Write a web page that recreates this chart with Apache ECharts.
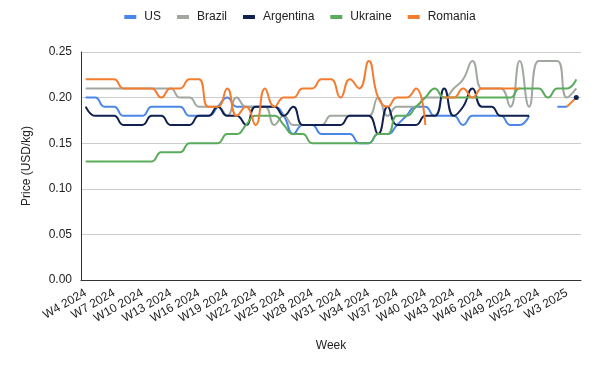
<!DOCTYPE html>
<html><head><meta charset="utf-8">
<script src="https://cdn.jsdelivr.net/npm/echarts@6/dist/echarts.min.js"></script>
<style>html,body{margin:0;padding:0;background:#fff}#c{width:600px;height:371px}</style>
</head><body><div id="c"></div>
<script>
// Categories: W4 2024 ... W4 2025
const weeks = [];
for (let w = 4; w <= 52; w++) weeks.push('W' + w + ' 2024');
for (let w = 1; w <= 4; w++) weeks.push('W' + w + ' 2025');

const seriesNames = ['US', 'Brazil', 'Argentina', 'Ukraine', 'Romania'];
const yTicks = [0, 0.05, 0.10, 0.15, 0.20, 0.25];

const us = [0.20,0.20,0.19,0.19,0.18,0.18,0.18,0.19,0.19,0.19,0.19,0.18,0.18,0.18,0.19,0.20,0.19,0.19,0.19,0.19,
  0.19,0.18,0.16,0.17,0.17,0.16,0.16,0.16,0.16,0.15,0.15,0.16,0.16,0.17,0.18,0.19,0.19,0.18,0.18,0.18,
  0.17,0.18,0.18,0.18,0.18,0.17,0.17,0.18,null,null,0.19,0.19,null];
const brazil = [0.21,0.21,0.21,0.21,0.21,0.21,0.21,0.21,0.21,0.21,0.20,0.20,0.19,0.19,0.19,0.18,0.20,0.19,0.19,0.19,
  0.17,0.18,0.17,0.17,0.17,0.17,0.18,0.18,0.18,0.18,0.18,0.20,0.18,0.19,0.19,0.19,0.20,0.20,0.20,0.21,
  0.22,0.24,0.21,0.21,0.21,0.19,0.24,0.19,0.24,0.24,0.24,0.20,0.21];
const argentina = [0.19,0.18,0.18,0.18,0.17,0.17,0.17,0.18,0.18,0.17,0.17,0.17,0.18,0.18,0.19,0.18,0.18,0.17,0.19,0.19,
  0.19,0.18,0.19,0.17,0.17,0.17,0.17,0.17,0.18,0.18,0.18,0.16,0.19,0.17,0.17,0.17,0.18,0.18,0.21,0.18,
  0.19,0.21,0.19,0.19,0.18,0.18,0.18,0.18,null,null,null,null,0.20];
const ukraine = [0.13,0.13,0.13,0.13,0.13,0.13,0.13,0.13,0.14,0.14,0.14,0.15,0.15,0.15,0.15,0.16,0.16,0.17,0.18,0.18,
  0.18,0.17,0.16,0.16,0.15,0.15,0.15,0.15,0.15,0.15,0.15,0.16,0.16,0.18,0.18,0.19,0.20,0.21,0.20,0.20,
  0.20,0.20,0.20,0.20,0.20,0.20,0.21,0.21,0.21,0.20,0.21,0.21,0.22];
const romania = [0.22,0.22,0.22,0.22,0.21,0.21,0.21,0.21,0.20,0.21,0.21,0.22,0.22,0.19,0.19,0.21,0.18,0.19,0.17,0.21,
  0.19,0.20,0.20,0.21,0.21,0.22,0.22,0.20,0.22,0.21,0.24,0.20,0.19,0.20,0.20,0.21,0.17,null,0.20,0.20,
  0.21,0.20,0.21,0.21,0.21,0.21,0.21,null,null,null,null,0.19,0.20];

const colors = ['#4a86e8', '#a0a8a0', '#10214f', '#5aab5b', '#f47c2f'];
const dataSets = [us, brazil, argentina, ukraine, romania];

function isolatedSize(arr) {
  return function (val, p) {
    const i = p.dataIndex;
    const prev = i > 0 ? arr[i - 1] : null, next = i < arr.length - 1 ? arr[i + 1] : null;
    return (prev == null && next == null) ? 5 : 0;
  };
}

const chart = echarts.init(document.getElementById('c'), null, {renderer: 'canvas'});
const font = 'Liberation Sans, Arial, sans-serif';
chart.setOption({
  animation: false,
  color: colors,
  textStyle: {fontFamily: font},
  legend: {
    top: 6, left: 'center',
    itemWidth: 12, itemHeight: 4, itemGap: 16,
    icon: 'rect',
    textStyle: {fontSize: 12, color: '#222', fontFamily: font, padding: [0, 0, 0, 3]},
    data: seriesNames
  },
  grid: {left: 81, right: 19, top: 52, bottom: 91},
  xAxis: {
    type: 'category', data: weeks, boundaryGap: true,
    name: 'Week', nameLocation: 'middle', nameGap: 60,
    nameTextStyle: {fontSize: 12, color: '#222', fontFamily: font},
    axisLine: {lineStyle: {color: '#333', width: 1}},
    axisTick: {show: false},
    axisLabel: {interval: 2, rotate: 30, fontSize: 12, color: '#222', margin: 12, fontFamily: font}
  },
  yAxis: {
    type: 'value', min: yTicks[0], max: yTicks[yTicks.length - 1], interval: 0.05,
    name: 'Price (USD/kg)', nameLocation: 'middle', nameGap: 48,
    nameTextStyle: {fontSize: 12, color: '#222', fontFamily: font},
    axisLine: {show: true, lineStyle: {color: '#333', width: 1}},
    axisTick: {show: false},
    splitLine: {lineStyle: {color: '#cccccc', width: 1}},
    axisLabel: {fontSize: 12, color: '#222', margin: 9, fontFamily: font, formatter: v => v.toFixed(2)}
  },
  series: seriesNames.map((n, k) => ({
    name: n, type: 'line', data: dataSets[k], smooth: 0.5,
    connectNulls: false, showSymbol: true, symbol: 'circle',
    symbolSize: isolatedSize(dataSets[k]),
    lineStyle: {width: 2, color: colors[k]},
    itemStyle: {color: colors[k]},
    emphasis: {disabled: true}
  }))
});
</script></body></html>
